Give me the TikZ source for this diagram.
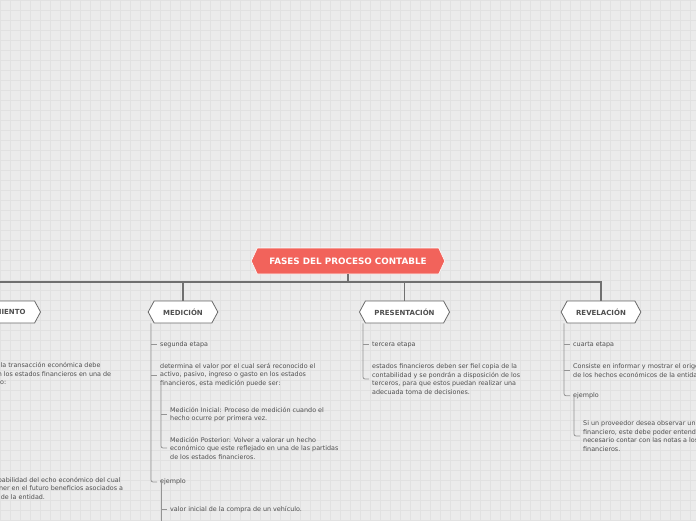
\documentclass[tikz,border=0pt]{standalone}
\usepackage{fontspec}
\setmainfont{DejaVu Sans}
\usepackage{tikz}
\usetikzlibrary{shapes.symbols}

\definecolor{rootred}{HTML}{F2635B}
\definecolor{paper}{HTML}{EBEBEB}
\definecolor{gridgray}{HTML}{E1E1E1}
\definecolor{inkgray}{HTML}{4F4F4F}
\definecolor{linegray}{HTML}{707070}

\begin{document}
\begin{tikzpicture}[x=1pt,y=-1pt,
    root node/.style={signal,signal to=east and west,signal pointer angle=130,fill=rootred,draw=white,line width=0.6pt,
                      text=white,minimum height=26pt,inner xsep=12pt,font=\fontsize{8.8}{10}\selectfont\bfseries},
    phase node/.style={signal,signal to=east and west,signal pointer angle=123,fill=white,draw=inkgray!85,line width=0.8pt,
                       text=inkgray,minimum height=22pt,inner xsep=9pt,font=\fontsize{7}{8}\selectfont\bfseries},
    leaf/.style={anchor=west,inner sep=0pt,align=left,text=inkgray,font=\fontsize{6.4}{8.5}\selectfont},
    trunk/.style={draw=linegray,line width=1.5pt},
    twig/.style={draw=linegray!75,line width=0.8pt,rounded corners=2pt}]
\useasboundingbox (0,0) rectangle (696,520);
\clip (0,0) rectangle (696,520);
\fill[paper] (0,0) rectangle (696,520);
\draw[gridgray,line width=0.4pt,step=10pt] (0,0) grid (696,520);

% Create nodes for the map
\node[root node] (root) at (348,261) {FASES DEL PROCESO CONTABLE};
\node[phase node,anchor=east] (recon) at (41,312) {RECONOCIMIENTO};
\node[phase node] (medicion) at (183,312) {MEDICIÓN};
\node[phase node] (presentacion) at (404.5,312) {PRESENTACIÓN};
\node[phase node] (revelacion) at (601,312) {REVELACIÓN};

% Reconocimiento
\node[leaf] (rec-tra) at (-53,374.5) {Consiste en que la transacción económica debe\\ser registrada en los estados financieros en una de\\las partidas como:};
\node[leaf] (rec-pro) at (-42,489) {Existe la probabilidad del echo económico del cual\\y podrá obtener en el futuro beneficios asociados a\\en la partida de la entidad.};

% Medicion
\node[leaf] (med-seg) at (160,344.5) {segunda etapa};
\node[leaf] (med-det) at (160,375) {determina el valor por el cual será reconocido el\\activo, pasivo, ingreso o gasto en los estados\\financieros, esta medición puede ser:};
\node[leaf] (med-ini) at (170,414.5) {Medición Inicial: Proceso de medición cuando el\\hecho ocurre por primera vez.};
\node[leaf] (med-pos) at (170,448) {Medición Posterior: Volver a valorar un hecho\\económico que este reflejado en una de las partidas\\de los estados financieros.};
\node[leaf] (med-ej) at (160,482) {ejemplo};
\node[leaf] (med-veh) at (170,509.5) {valor inicial de la compra de un vehículo.};
\coordinate (med-more) at (161,530);

% Presentacion
\node[leaf] (pre-ter) at (372,344.5) {tercera etapa};
\node[leaf] (pre-est) at (372,379) {estados financieros deben ser fiel copia de la\\contabilidad y se pondrán a disposición de los\\terceros, para que estos puedan realizar una\\adecuada toma de decisiones.};

% Revelacion
\node[leaf] (rev-cua) at (573,344.5) {cuarta etapa};
\node[leaf] (rev-con) at (573,370.5) {Consiste en informar y mostrar el origen\\de los hechos económicos de la entidad.};
\node[leaf] (rev-ej) at (573,395.7) {ejemplo};
\node[leaf] (rev-pro) at (583,436) {Si un proveedor desea observar un estado\\financiero, este debe poder entenderlo, por ello es\\necesario contar con las notas a los estados\\financieros.};

% Create edges for the map
\coordinate (bus) at (348,282);
\draw[trunk] (root.south) -- (bus) -| (revelacion.north);
\draw[trunk] (bus) -| (presentacion.north);
\draw[trunk] (bus) -| (medicion.north);
\draw[trunk] (bus) -| (recon.north);

\draw[twig] ([xshift=-9pt]rec-tra.west |- recon.south) |- ([xshift=-3pt]rec-tra.west);
\draw[twig] ([xshift=-19pt]rec-pro.west |- recon.south) |- ([xshift=-3pt]rec-pro.west);

\draw[twig] ([xshift=-9pt]med-seg.west |- medicion.south) |- ([xshift=-3pt]med-ej.west);
\draw[twig] ([xshift=-9pt]med-seg.west) -- ([xshift=-3pt]med-seg.west);
\draw[twig] ([xshift=-9pt]med-det.west) -- ([xshift=-3pt]med-det.west);
\draw[twig] ([xshift=1pt,yshift=3pt]med-det.south west) |- ([xshift=-3pt]med-pos.west);
\draw[twig] ([xshift=-9pt]med-ini.west) -- ([xshift=-3pt]med-ini.west);
\draw[twig] ([xshift=1pt,yshift=5pt]med-ej.south west) -- (med-more);
\draw[twig] ([xshift=-9pt]med-veh.west) -- ([xshift=-3pt]med-veh.west);

\draw[twig] ([xshift=-9pt]pre-ter.west |- presentacion.south) |- ([xshift=-3pt]pre-est.west);
\draw[twig] ([xshift=-9pt]pre-ter.west) -- ([xshift=-3pt]pre-ter.west);

\draw[twig] ([xshift=-9pt]rev-cua.west |- revelacion.south) |- ([xshift=-3pt]rev-ej.west);
\draw[twig] ([xshift=-9pt]rev-cua.west) -- ([xshift=-3pt]rev-cua.west);
\draw[twig] ([xshift=-9pt]rev-con.west) -- ([xshift=-3pt]rev-con.west);
\draw[twig] ([xshift=1pt,yshift=5pt]rev-ej.south west) |- ([xshift=-3pt]rev-pro.west);
\end{tikzpicture}
\end{document}
